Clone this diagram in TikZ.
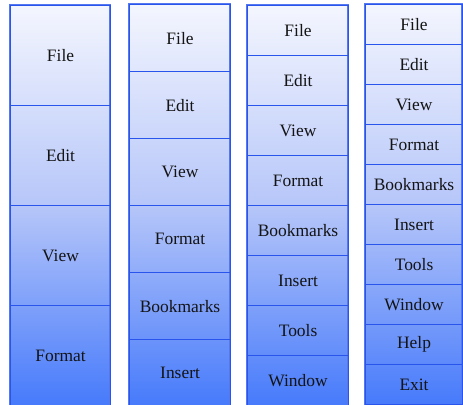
\documentclass[tikz,border=0pt]{standalone}
\usepackage{fontspec}
\setmainfont{Liberation Serif}
\definecolor{menutop}{HTML}{F4F6FE}
\definecolor{menumid}{HTML}{B6C6F9}
\definecolor{menubot}{HTML}{467AFB}
\definecolor{menuline}{HTML}{2A55EC}
\definecolor{menuedge}{HTML}{5577F0}
\tikzset{
  x=1bp, y=-1bp,
  menuitem/.style={rectangle, draw=menuline, line width=1.1bp, inner sep=0pt,
    anchor=north west, font=\fontsize{17.5}{19}\selectfont, text=black!92},
  column/.style={top color=menutop, bottom color=menubot, middle color=menumid,
    draw=menuedge, line width=1.1bp}
}
\begin{document}
\begin{tikzpicture}
\useasboundingbox (0,0) rectangle (463,404);
% column 1: four items, 100 high
\shade[column] (10,5) rectangle (110,406);
\foreach \t [count=\i from 0] in {File,Edit,View,Format}
  \node[menuitem, minimum width=100bp, minimum height=100bp] (a\i) at (10,5+100*\i) {\t};
% column 2: six items, 67 high
\shade[column] (129,4) rectangle (230,406);
\foreach \t [count=\i from 0] in {File,Edit,View,Format,Bookmarks,Insert}
  \node[menuitem, minimum width=101bp, minimum height=67bp] (b\i) at (129,4+67*\i) {\t};
% column 3: eight items, 50 high
\shade[column] (247,5) rectangle (348,406);
\foreach \t [count=\i from 0] in {File,Edit,View,Format,Bookmarks,Insert,Tools,Window}
  \node[menuitem, minimum width=101bp, minimum height=50bp] (c\i) at (247,5+50*\i) {\t};
% column 4: ten items, 40 high
\shade[column] (365,4) rectangle (462,405);
\foreach \t [count=\i from 0] in {File,Edit,View,Format,Bookmarks,Insert,Tools,Window,Help,Exit}
  \node[menuitem, minimum width=97bp, minimum height=40bp] (d\i) at (365,4+40*\i) {\t};
\end{tikzpicture}
\end{document}
